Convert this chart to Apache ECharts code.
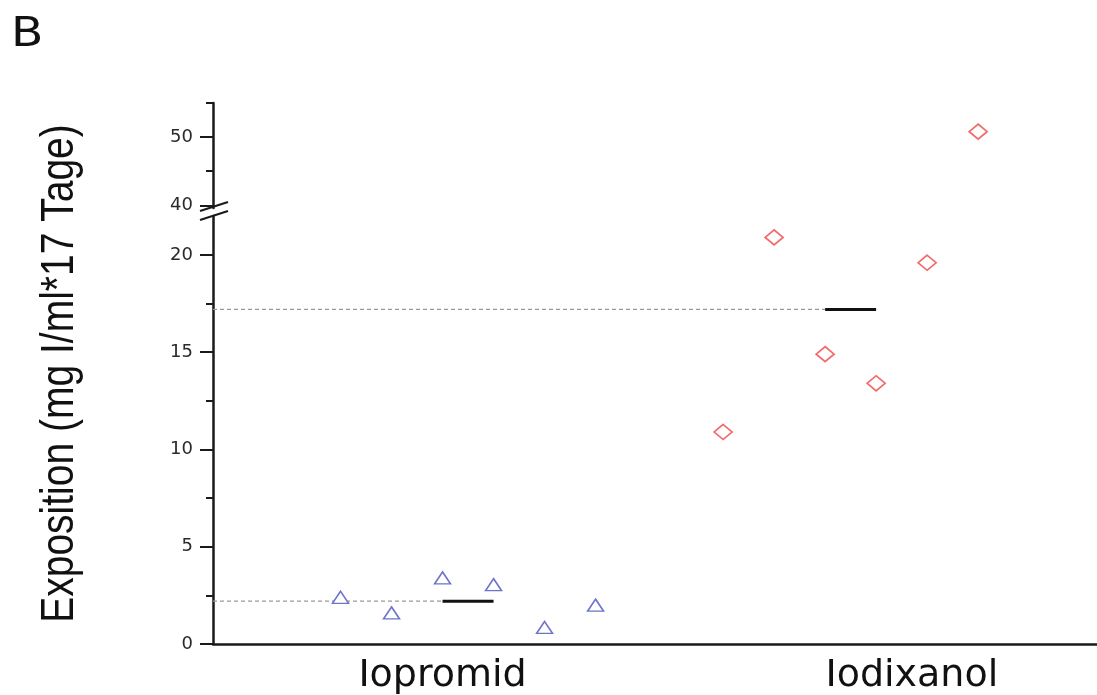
<!DOCTYPE html>
<html>
<head>
<meta charset="utf-8">
<script src="https://cdn.jsdelivr.net/npm/echarts@6/dist/echarts.min.js"></script>
<style>
  html, body { margin: 0; padding: 0; background: #fff; }
  #chart { width: 1097px; height: 695px; }
</style>
</head>
<body>
<div id="chart"></div>
<script>
// groups and where their names sit on the x scale
const groups = ['Iopromid', 'Iodixanol']
const groupLabelX = [4.5, 13.7]

// jittered x positions and exposure values per patient
const iopromidX = [2.5, 3.5, 4.5, 5.5, 6.5, 7.5]
const iopromidY = [2.4, 1.6, 3.4, 3.05, 0.85, 2.0]
const iodixanolX = [10, 11, 12, 13, 14, 15]
const iodixanolY = [10.9, 20.9, 14.9, 13.4, 19.6, 50.8]

// median per group, and the x span of the median bar
const medians = [2.2, 17.2]
const medianFrom = [4.5, 12]
const medianTo = [5.5, 13]

// axis ticks (lower and upper part of the broken axis)
const lowerTicks = [0, 5, 10, 15, 20]
const lowerMinor = [2.5, 7.5, 12.5, 17.5]
const upperTicks = [40, 50]
const upperMinor = [45, 55]
const lowerMax = 22
const upperMin = 39.6
const upperMax = 55
const xMax = 17.33

const tickFont = { fontFamily: 'DejaVu Sans', fontSize: 18, color: '#2a2a2a' }

function yAxisMain (grid, min, max, ticks) {
  return {
    type: 'value',
    gridIndex: grid,
    min: min,
    max: max,
    position: 'left',
    axisLine: { show: true, lineStyle: { color: '#1a1a1a', width: 2.5 } },
    axisTick: { show: true, length: 13, customValues: ticks, lineStyle: { color: '#1a1a1a', width: 2 } },
    axisLabel: Object.assign({ customValues: ticks, margin: 20 }, tickFont),
    splitLine: { show: false }
  }
}

function yAxisMinor (grid, min, max, ticks) {
  return {
    type: 'value',
    gridIndex: grid,
    min: min,
    max: max,
    position: 'left',
    offset: 0,
    axisLine: { show: false },
    axisTick: { show: true, length: 7, customValues: ticks, lineStyle: { color: '#1a1a1a', width: 2 } },
    axisLabel: { show: false },
    splitLine: { show: false }
  }
}

let chart = echarts.init(document.getElementById('chart'), null, { renderer: 'canvas' })

let lowerIodixanol = []
let upperIodixanol = []
iodixanolX.forEach((x, i) => {
  if (iodixanolY[i] > lowerMax) upperIodixanol.push([x, iodixanolY[i]])
  else lowerIodixanol.push([x, iodixanolY[i]])
})

let series = [
  {
    name: groups[0],
    type: 'scatter',
    xAxisIndex: 1,
    yAxisIndex: 2,
    symbol: 'triangle',
    symbolSize: [16, 12],
    itemStyle: { color: '#fff', borderColor: '#6b74c9', borderWidth: 1.5, opacity: 1 },
    data: iopromidX.map((x, i) => [x, iopromidY[i]]),
    z: 5
  },
  {
    name: groups[1],
    type: 'scatter',
    xAxisIndex: 1,
    yAxisIndex: 2,
    symbol: 'diamond',
    symbolSize: [18, 15],
    itemStyle: { color: '#fff', borderColor: '#f26b6b', borderWidth: 1.7, opacity: 1 },
    data: lowerIodixanol,
    z: 5
  },
  {
    name: groups[1] + ' (oben)',
    type: 'scatter',
    xAxisIndex: 0,
    yAxisIndex: 0,
    symbol: 'diamond',
    symbolSize: [18, 15],
    itemStyle: { color: '#fff', borderColor: '#f26b6b', borderWidth: 1.7, opacity: 1 },
    data: upperIodixanol,
    z: 5
  }
]

medians.forEach((m, i) => {
  series.push({
    name: 'Median ' + groups[i],
    type: 'line',
    xAxisIndex: 1,
    yAxisIndex: 2,
    symbol: 'none',
    lineStyle: { color: '#111', width: 3 },
    data: [[medianFrom[i], m], [medianTo[i], m]],
    z: 4
  })
  series.push({
    name: 'Hilfslinie ' + groups[i],
    type: 'line',
    xAxisIndex: 1,
    yAxisIndex: 2,
    symbol: 'none',
    lineStyle: { color: '#999', width: 1.3, type: [4, 3] },
    data: [[0, m], [medianFrom[i], m]],
    z: 3
  })
})

const option = {
  animation: false,
  backgroundColor: '#fff',
  grid: [
    { left: 213, top: 103, width: 884, height: 105 },
    { left: 213, top: 216, width: 884, height: 429 }
  ],
  xAxis: [
    { type: 'value', gridIndex: 0, min: 0, max: xMax, show: false, splitLine: { show: false } },
    {
      type: 'value',
      gridIndex: 1,
      min: 0,
      max: xMax,
      axisLine: { show: true, lineStyle: { color: '#1a1a1a', width: 2.5 } },
      axisTick: { show: false },
      splitLine: { show: false },
      axisLabel: {
        customValues: groupLabelX,
        formatter: (v) => groups[groupLabelX.indexOf(v)] || '',
        fontFamily: 'DejaVu Sans',
        fontSize: 38,
        color: '#111',
        margin: 13
      }
    }
  ],
  yAxis: [
    yAxisMain(0, upperMin, upperMax, upperTicks),
    yAxisMinor(0, upperMin, upperMax, upperMinor),
    yAxisMain(1, 0, lowerMax, lowerTicks),
    yAxisMinor(1, 0, lowerMax, lowerMinor)
  ],
  series: series
}

chart.setOption(option)

// decorations: panel letter, rotated y title and the axis break marks
let x0 = chart.convertToPixel({ xAxisIndex: 1 }, 0)
let yTop = chart.convertToPixel({ yAxisIndex: 0 }, upperMin)
let yBot = chart.convertToPixel({ yAxisIndex: 2 }, lowerMax)
let yMid = (chart.convertToPixel({ yAxisIndex: 0 }, upperMax) + chart.convertToPixel({ yAxisIndex: 2 }, 0)) / 2

chart.setOption({
  graphic: [
    {
      type: 'text',
      x: 11,
      y: 16,
      scaleX: 1.18,
      style: { text: 'B', font: '40px "DejaVu Sans"', fill: '#111', textVerticalAlign: 'top' }
    },
    {
      type: 'text',
      x: 60,
      y: yMid,
      rotation: Math.PI / 2,
      scaleY: 1.2,
      style: {
        text: 'Exposition (mg I/ml*17 Tage)',
        font: '39px "Liberation Sans"',
        fill: '#111',
        textAlign: 'center',
        textVerticalAlign: 'middle'
      }
    },
    {
      type: 'line',
      shape: { x1: x0 - 13, y1: yTop + 3, x2: x0 + 15, y2: yTop - 6 },
      style: { stroke: '#1a1a1a', lineWidth: 2 }
    },
    {
      type: 'line',
      shape: { x1: x0 - 13, y1: yBot + 4, x2: x0 + 15, y2: yBot - 5 },
      style: { stroke: '#1a1a1a', lineWidth: 2 }
    }
  ]
})
</script>
</body>
</html>
